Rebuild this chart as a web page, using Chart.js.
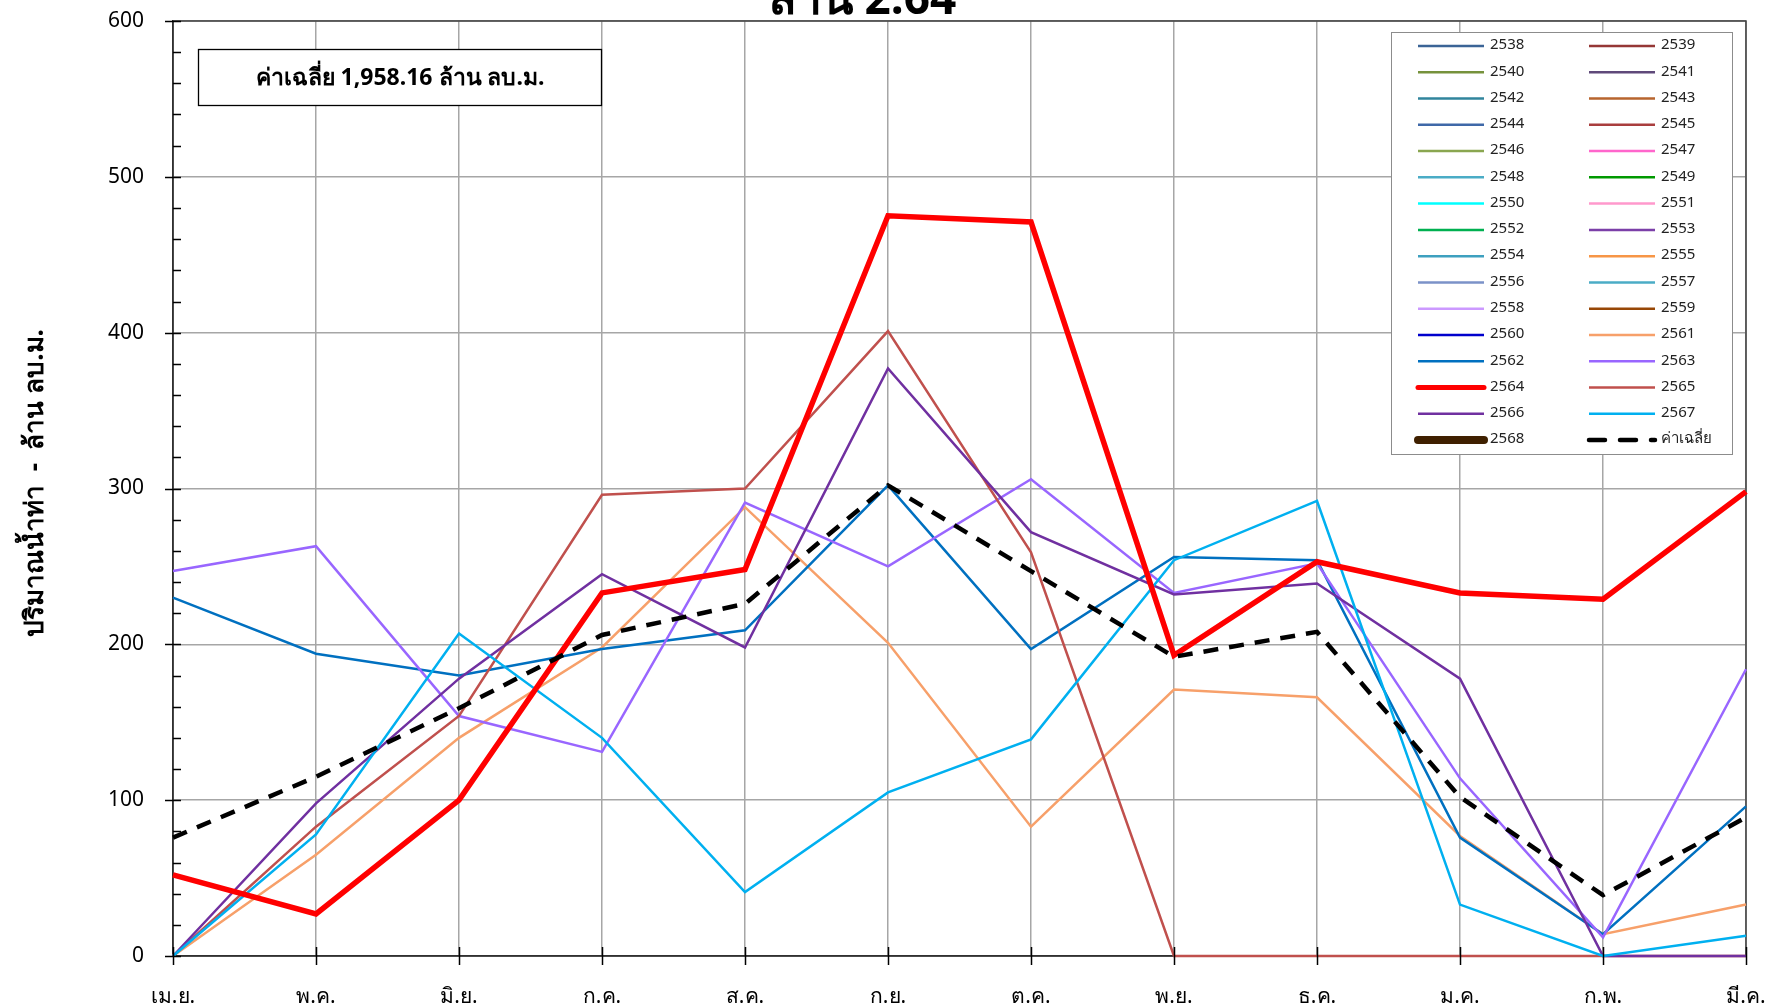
<!DOCTYPE html>
<html><head><meta charset="utf-8">
<script src="https://cdn.jsdelivr.net/npm/chart.js@4.4.1/dist/chart.umd.min.js"></script>
<style>html,body{margin:0;padding:0;background:#fff;overflow:hidden}#wrap{width:1776px;height:1008px}</style>
</head><body><div id="wrap"><canvas id="c" width="1776" height="1008"></canvas></div>
<script>
const months = ['เม.ย.','พ.ค.','มิ.ย.','ก.ค.','ส.ค.','ก.ย.','ต.ค.','พ.ย.','ธ.ค.','ม.ค.','ก.พ.','มี.ค.'];
const yMin = 0, yMax = 600, yStep = 100, yMinorStep = 20;
const years = ['2538','2539','2540','2541','2542','2543','2544','2545','2546','2547','2548','2549','2550','2551','2552','2553','2554','2555','2556','2557','2558','2559','2560','2561','2562','2563','2564','2565','2566','2567','2568'];
const v2561 = [0, 65, 140, 198, 288, 201, 83, 171, 166, 77, 14, 33];
const v2562 = [230, 194, 180, 197, 209, 302, 197, 256, 254, 76, 14, 96];
const v2563 = [247, 263, 154, 131, 291, 250, 306, 233, 252, 114, 12, 184];
const v2564 = [52, 27, 100, 233, 248, 475, 471, 193, 253, 233, 229, 298];
const v2565 = [0, 83, 154, 296, 300, 401, 259, 0, 0, 0, 0, 0];
const v2566 = [0, 98, 178, 245, 198, 377, 272, 232, 239, 178, 0, 0];
const v2567 = [0, 78, 207, 140, 41, 105, 139, 254, 292, 33, 0, 13];
const vAvg = [76, 115, 159, 206, 226, 302, 247, 192, 208, 102, 39, 89];
const avgLabel = 'ค่าเฉลี่ย';
const avgText = 'ค่าเฉลี่ย 1,958.16 ล้าน ลบ.ม.';
const titleText = 'ล้าน 2.64';
const yTitle = 'ปริมาณน้ำท่า  -  ล้าน ลบ.ม.';
const yearValues = {'2561': v2561, '2562': v2562, '2563': v2563, '2564': v2564, '2565': v2565, '2566': v2566, '2567': v2567};
const yearColors = ['#3B6496','#953735','#76923C','#5F497A','#31859C','#B7652E','#3F68A8','#A93E3E','#8AA650','#FF66CC','#4BACC6','#009900','#00FFFF','#FF99CC','#00B050','#7B3FA8','#3EA0BF','#F79646','#7B92C8','#4BACC6','#CC99FF','#974706','#0000CC','#F7A06A','#0070C0','#9966FF','#FF0000','#C0504D','#7030A0','#00B0F0','#3F2000'];

const FONT = "'Noto Sans', 'DejaVu Sans', sans-serif";

const datasets = years.map((yr, i) => ({
  label: yr,
  data: yearValues[yr] || months.map(() => null),
  borderColor: yearColors[i],
  backgroundColor: yearColors[i],
  borderWidth: yr === '2564' ? 5.5 : (yr === '2568' ? 8 : 2.5),
  legendWidth: yr === '2564' ? 5 : (yr === '2568' ? 8 : 2.5),
  pointRadius: 0, pointHoverRadius: 0, tension: 0, fill: false, clip: 6,
  order: yr === '2564' ? 1 : 2600 - parseInt(yr)
}));
datasets.push({
  label: avgLabel, data: vAvg, borderColor: '#000', backgroundColor: '#000',
  borderWidth: 4.5, legendWidth: 4.5, borderDash: [15, 11], pointRadius: 0, tension: 0, fill: false, clip: 6, order: 0
});

const decor = {
  id: 'decor',
  beforeDatasetsDraw(chart) {
    const {ctx, chartArea: a} = chart;
    ctx.save();
    ctx.strokeStyle = '#404040'; ctx.lineWidth = 1.5;
    ctx.strokeRect(a.left, a.top, a.right - a.left, a.bottom - a.top);
    ctx.restore();
  },
  afterDraw(chart) {
    const {ctx, chartArea: a, scales} = chart;
    const xs = scales.x, ys = scales.y;
    ctx.save();
    ctx.strokeStyle = '#000'; ctx.lineWidth = 1.5;
    ctx.beginPath();
    for (let v = yMin; v <= yMax; v += yMinorStep) {
      const py = Math.round(ys.getPixelForValue(v)) + 0.5;
      if (v % yStep === 0) { ctx.moveTo(a.left - 8, py); ctx.lineTo(a.left + 8, py); }
      else { ctx.moveTo(a.left, py); ctx.lineTo(a.left + 8, py); }
    }
    for (let i = 0; i < months.length; i++) {
      const px = Math.round(xs.getPixelForValue(i)) + 0.5;
      ctx.moveTo(px, a.bottom - 9); ctx.lineTo(px, a.bottom + 9);
    }
    ctx.stroke();
    ctx.fillStyle = '#000';
    ctx.font = 'bold 46px ' + FONT;
    ctx.textAlign = 'center'; ctx.textBaseline = 'alphabetic';
    ctx.fillText(titleText, 862, 14);
    ctx.save();
    ctx.translate(36, 483); ctx.rotate(-Math.PI / 2);
    ctx.font = 'bold 26px ' + FONT; ctx.textBaseline = 'middle';
    ctx.fillText(yTitle, 0, 0);
    ctx.restore();
    ctx.fillStyle = '#fff'; ctx.fillRect(198.5, 49.5, 403, 56);
    ctx.strokeStyle = '#000'; ctx.lineWidth = 1.3; ctx.strokeRect(198.5, 49.5, 403, 56);
    ctx.fillStyle = '#000'; ctx.font = 'bold 23px ' + FONT; ctx.textBaseline = 'middle';
    ctx.fillText(avgText, 400, 78);
    const lx = 1391.5, ly = 32.5, lw = 341, lh = 422;
    ctx.fillStyle = '#fff'; ctx.fillRect(lx, ly, lw, lh);
    ctx.strokeStyle = '#8c8c8c'; ctx.lineWidth = 1; ctx.strokeRect(lx, ly, lw, lh);
    const dsAll = chart.data.datasets;
    ctx.font = '15px ' + FONT; ctx.textAlign = 'left'; ctx.textBaseline = 'middle';
    dsAll.forEach((ds, i) => {
      const col = i % 2, row = Math.floor(i / 2);
      const y = 46 + row * 26.27;
      const x0 = col === 0 ? 1418 : 1589, x1 = x0 + 66;
      ctx.save();
      ctx.strokeStyle = ds.borderColor; ctx.lineWidth = ds.legendWidth;
      ctx.lineCap = ds.legendWidth >= 5 ? 'round' : 'butt';
      if (ds.borderDash) { ctx.setLineDash([16, 15]); ctx.lineCap = 'round'; }
      ctx.beginPath(); ctx.moveTo(x0, y); ctx.lineTo(x1, y); ctx.stroke();
      ctx.restore();
      ctx.fillStyle = '#222';
      ctx.fillText(ds.label, x1 + 6, y - 1);
    });
    ctx.restore();
  }
};

new Chart(document.getElementById('c'), {
  type: 'line',
  data: { labels: months, datasets },
  options: {
    responsive: false, animation: false, devicePixelRatio: 1,
    layout: { padding: { top: 21, right: 30, bottom: 0, left: 0 } },
    plugins: { legend: { display: false }, tooltip: { enabled: false }, title: { display: false } },
    scales: {
      x: {
        type: 'category', offset: false,
        grid: { color: '#A6A6A6', lineWidth: 1.5, drawTicks: true, tickLength: 28, tickColor: 'rgba(0,0,0,0)' },
        border: { color: '#000', width: 1.5 },
        ticks: { color: '#000', font: { family: FONT, size: 21 }, padding: 0, maxRotation: 0, autoSkip: false },
        afterFit(s) { s.height = 52; }
      },
      y: {
        min: yMin, max: yMax,
        grid: { color: '#A6A6A6', lineWidth: 1.5, drawTicks: true, tickLength: 29, tickColor: 'rgba(0,0,0,0)' },
        border: { color: '#000', width: 1.5 },
        ticks: { stepSize: yStep, color: '#000', font: { family: FONT, size: 21 }, padding: 0 },
        afterFit(s) { s.width = 173; }
      }
    }
  },
  plugins: [decor]
});
</script></body></html>
